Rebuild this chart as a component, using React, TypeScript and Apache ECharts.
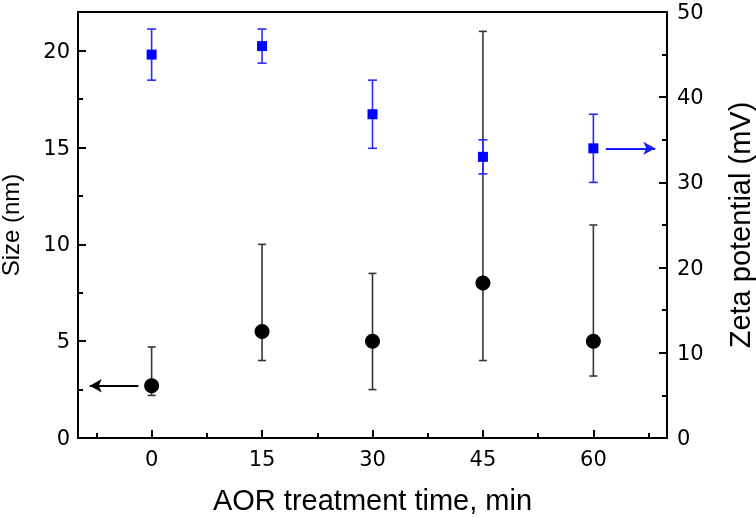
import React, { useEffect, useRef } from "react";
import * as echarts from "echarts";

const times = [0, 15, 30, 45, 60];
const sizeVals = [2.7, 5.5, 5.0, 8.0, 5.0];
const sizeLow = [2.2, 4.0, 2.5, 4.0, 3.2];
const sizeHigh = [4.7, 10.0, 8.5, 21.0, 11.0];
const zetaVals = [45, 46, 38, 33, 34];
const zetaLow = [42, 44, 34, 31, 30];
const zetaHigh = [48, 48, 42, 35, 38];
const xMajorTicks = [0, 15, 30, 45, 60];
const xMinorTicks = [-7.5, 7.5, 22.5, 37.5, 52.5, 67.5];
const sizeTicks = [0, 5, 10, 15, 20];
const sizeMinorTicks = [2.5, 7.5, 12.5, 17.5];

const tickFont = "DejaVu Sans";
const titleFont = "Liberation Sans";

function errorBar(color: string, half: number) {
  return (params: any, api: any) => {
    const x = api.value(0);
    const lo = api.coord([x, api.value(1)]);
    const hi = api.coord([x, api.value(2)]);
    const style = { stroke: color, lineWidth: 1.6, fill: "none" };
    return {
      type: "group",
      children: [
        { type: "line", shape: { x1: lo[0], y1: lo[1], x2: hi[0], y2: hi[1] }, style },
        { type: "line", shape: { x1: lo[0] - half, y1: lo[1], x2: lo[0] + half, y2: lo[1] }, style },
        { type: "line", shape: { x1: hi[0] - half, y1: hi[1], x2: hi[0] + half, y2: hi[1] }, style },
      ],
    };
  };
}

export default function App() {
  const ref = useRef<HTMLDivElement>(null);
  useEffect(() => {
    const chart = echarts.init(ref.current!, undefined, { renderer: "svg" });
    const axisLine = { show: true, onZero: false, lineStyle: { color: "#000", width: 2 } };
    chart.setOption({
      animation: false,
      grid: {
        left: 78,
        right: 89,
        top: 12,
        bottom: 79,
        show: true,
        borderColor: "#000",
        borderWidth: 2,
        containLabel: false,
        outerBoundsMode: "none",
      },
      xAxis: [
        {
          type: "value",
          min: -10,
          max: 70,
          position: "bottom",
          axisLine,
          splitLine: { show: false },
          axisTick: { show: true, inside: true, length: 8, customValues: xMajorTicks, lineStyle: { color: "#000", width: 2 } },
          axisLabel: { customValues: xMajorTicks, color: "#000", fontSize: 21, fontFamily: tickFont, margin: 10 },
          name: "AOR treatment time, min",
          nameLocation: "middle",
          nameGap: 47,
          nameTextStyle: { color: "#000", fontSize: 29, fontFamily: titleFont },
        },
        {
          type: "value",
          min: -10,
          max: 70,
          position: "bottom",
          axisLine: { show: false, onZero: false },
          splitLine: { show: false },
          axisTick: { show: true, inside: true, length: 5, customValues: xMinorTicks, lineStyle: { color: "#000", width: 2 } },
          axisLabel: { show: false },
        },
      ],
      yAxis: [
        {
          type: "value",
          min: 0,
          max: 22,
          position: "left",
          axisLine,
          splitLine: { show: false },
          axisTick: { show: true, inside: true, length: 8, customValues: sizeTicks, lineStyle: { color: "#000", width: 2 } },
          axisLabel: {
            customValues: sizeTicks,
            color: "#000",
            fontSize: 21,
            fontFamily: tickFont,
            margin: 8,
            align: "right",
          },
          name: "Size (nm)",
          nameLocation: "middle",
          nameGap: 56,
          nameMoveOverlap: false,
          nameTextStyle: { color: "#000", fontSize: 24, fontFamily: titleFont },
        },
        {
          type: "value",
          min: 0,
          max: 22,
          position: "left",
          axisLine: { show: false, onZero: false },
          splitLine: { show: false },
          axisTick: { show: true, inside: true, length: 5, customValues: sizeMinorTicks, lineStyle: { color: "#000", width: 2 } },
          axisLabel: { show: false },
        },
        {
          type: "value",
          min: 0,
          max: 50,
          interval: 10,
          position: "right",
          axisLine,
          splitLine: { show: false },
          axisTick: { show: true, inside: true, length: 8, lineStyle: { color: "#000", width: 2 } },
          minorTick: { show: true, splitNumber: 2, length: 5, lineStyle: { color: "#000", width: 2 } },
          minorSplitLine: { show: false },
          axisLabel: { color: "#000", fontSize: 21, fontFamily: tickFont, margin: 10 },
          name: "Zeta potential (mV)",
          nameLocation: "middle",
          nameGap: 58,
          nameRotate: 90,
          nameTextStyle: { color: "#000", fontSize: 29, fontFamily: titleFont },
        },
      ],
      series: [
        {
          type: "custom",
          xAxisIndex: 0,
          yAxisIndex: 0,
          renderItem: errorBar("#2e3a3a", 4),
          data: times.map((t, i) => [t, sizeLow[i], sizeHigh[i]]),
          silent: true,
          z: 1,
        },
        {
          type: "custom",
          xAxisIndex: 0,
          yAxisIndex: 2,
          renderItem: errorBar("#2a2aff", 4.5),
          data: times.map((t, i) => [t, zetaLow[i], zetaHigh[i]]),
          silent: true,
          z: 1,
        },
        {
          type: "scatter",
          xAxisIndex: 0,
          yAxisIndex: 0,
          symbol: "circle",
          symbolSize: 15,
          itemStyle: { color: "#000", opacity: 1 },
          data: times.map((t, i) => [t, sizeVals[i]]),
          z: 3,
          markLine: {
            silent: true,
            symbol: ["none", "arrow"],
            symbolSize: [10, 12],
            lineStyle: { color: "#000", width: 2, type: "solid" },
            label: { show: false },
            data: [[{ coord: [-1.8, 2.7] }, { coord: [-8.4, 2.7] }]],
          },
        },
        {
          type: "scatter",
          xAxisIndex: 0,
          yAxisIndex: 2,
          symbol: "rect",
          symbolSize: 10,
          itemStyle: { color: "#0000ff", opacity: 1 },
          data: times.map((t, i) => [t, zetaVals[i]]),
          z: 3,
          markLine: {
            silent: true,
            symbol: ["none", "arrow"],
            symbolSize: [10, 12],
            lineStyle: { color: "#1a1aff", width: 2, type: "solid" },
            label: { show: false },
            data: [[{ coord: [61.7, 34] }, { coord: [68.4, 34] }]],
          },
        },
      ],
    });
    return () => chart.dispose();
  }, []);
  return <div ref={ref} style={{ position: "fixed", left: 0, top: 0, width: 756, height: 517 }} />;
}
